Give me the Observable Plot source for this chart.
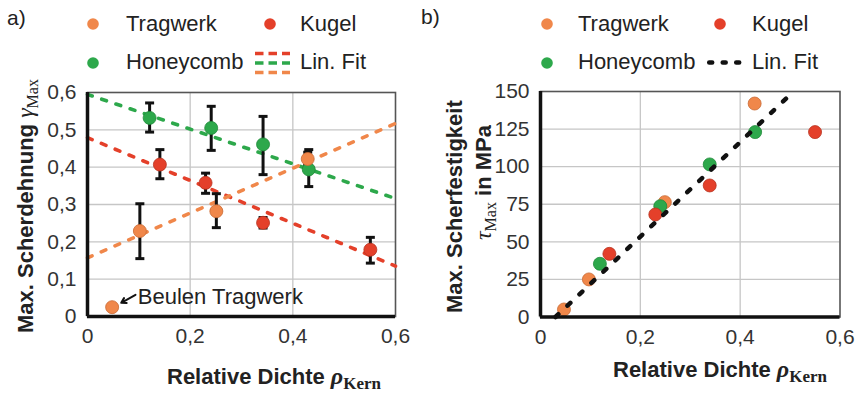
<!DOCTYPE html>
<html><head><meta charset="utf-8">
<script src="https://cdn.jsdelivr.net/npm/d3@7"></script>
<script src="https://cdn.jsdelivr.net/npm/@observablehq/plot@0.6"></script>
<style>
body{margin:0;background:#fff;}
#wrap{position:relative;width:864px;height:394px;overflow:hidden;font-family:"Liberation Sans",Arial,sans-serif;}
#wrap > svg, #wrap > div{position:absolute;top:0;}
</style></head>
<body><div id="wrap"></div>
<script>
// ---------- Panel a data: Max. Scherdehnung ----------
const tragX  = [0.048, 0.102, 0.251, 0.429];
const tragY  = [0.025, 0.229, 0.282, 0.422];
const tragLo = [null, 0.155, 0.238, 0.405];
const tragHi = [null, 0.302, 0.329, 0.440];
const kugX   = [0.141, 0.230, 0.342, 0.551];
const kugY   = [0.407, 0.358, 0.251, 0.179];
const kugLo  = [0.369, 0.330, 0.237, 0.143];
const kugHi  = [0.447, 0.384, 0.265, 0.212];
const honX   = [0.121, 0.241, 0.342, 0.431];
const honY   = [0.532, 0.505, 0.461, 0.394];
const honLo  = [0.494, 0.445, 0.380, 0.348];
const honHi  = [0.572, 0.563, 0.536, 0.447];
// linear fit end points (x range 0..0.6)
const fitAX = [0, 0.6];
const fitTragY = [0.157, 0.517];
const fitKugY  = [0.479, 0.135];
const fitHonY  = [0.595, 0.316];
const annotText = ["Beulen Tragwerk"];
const annotX = [0.098], annotY = [0.052];
const arrowFrom = [0.0935, 0.058], arrowTo = [0.0657, 0.0367];

// ---------- Panel b data: Max. Scherfestigkeit ----------
const bTragX = [0.047, 0.097, 0.249, 0.429];
const bTragY = [5.0, 25.0, 76.4, 142.0];
const bHonX  = [0.119, 0.240, 0.339, 0.430];
const bHonY  = [35.4, 73.7, 101.5, 123.0];
const bKugX  = [0.138, 0.230, 0.339, 0.550];
const bKugY  = [42.0, 68.2, 87.5, 123.0];
const fitBX  = [0.03, 0.507];
const fitBY  = [0, 150];

const xTicks = [0, 0.2, 0.4, 0.6];
const yTicksA = [0, 0.1, 0.2, 0.3, 0.4, 0.5, 0.6];
const yTicksB = [0, 25, 50, 75, 100, 125, 150];

const C = {trag:"#f0874a", kug:"#e4402a", hon:"#2da84b"};
const fmt = d => d === 0 ? "0" : String(+d.toFixed(2)).replace(".", ",");

const zip = (xs, ys) => xs.map((x,i)=>({x, y:ys[i]}));
const errs = (xs, ys, lo, hi) => xs.map((x,i)=>({x, y:ys[i], lo:lo[i], hi:hi[i]})).filter(d=>d.lo!=null);
const capSymbol = {draw(ctx, size){ const w = Math.sqrt(size/Math.PI); ctx.moveTo(-w,0); ctx.lineTo(w,0);} };

const wrap = document.getElementById("wrap");
const axisStyle = {fontSize:21, fill:"#333", tickSize:0};

function base(ticksY){
  return [
    Plot.gridX({ticks:[0.2,0.4], stroke:"#c6c6c6", strokeOpacity:1, strokeWidth:1.3}),
    Plot.gridY({ticks:ticksY.slice(1,-1), stroke:"#c6c6c6", strokeOpacity:1, strokeWidth:1.3}),
    Plot.frame({stroke:"#555", strokeWidth:1.6}),
    Plot.axisX({ticks:xTicks, tickFormat:fmt, tickPadding:12, label:null, ...axisStyle}),
    Plot.axisY({ticks:ticksY, tickFormat:fmt, tickPadding:11, label:null, ...axisStyle}),
  ];
}

const eA = [...errs(honX,honY,honLo,honHi), ...errs(kugX,kugY,kugLo,kugHi), ...errs(tragX,tragY,tragLo,tragHi)];
const plotA = Plot.plot({
  width:430, height:394, marginLeft:87, marginRight:35, marginTop:92, marginBottom:78,
  style:{fontFamily:"Liberation Sans, Arial, sans-serif", background:"transparent", overflow:"visible"},
  x:{domain:[0,0.6]}, y:{domain:[0,0.6]},
  marks:[
    ...base(yTicksA),
    Plot.line(zip(fitAX, fitHonY), {x:"x", y:"y", stroke:C.hon, strokeWidth:3.6, strokeDasharray:"5,10", strokeLinecap:"round"}),
    Plot.line(zip(fitAX, fitKugY), {x:"x", y:"y", stroke:C.kug, strokeWidth:3.6, strokeDasharray:"5,10", strokeLinecap:"round"}),
    Plot.line(zip(fitAX, fitTragY), {x:"x", y:"y", stroke:C.trag, strokeWidth:3.6, strokeDasharray:"5,10", strokeLinecap:"round"}),
    Plot.ruleX(eA, {x:"x", y1:"lo", y2:"hi", stroke:"#111", strokeWidth:3}),
    Plot.dot(eA, {x:"x", y:"lo", symbol:capSymbol, r:4.5, stroke:"#111", strokeWidth:3, fill:"none"}),
    Plot.dot(eA, {x:"x", y:"hi", symbol:capSymbol, r:4.5, stroke:"#111", strokeWidth:3, fill:"none"}),
    Plot.dot(zip(honX,honY), {x:"x", y:"y", r:6.5, fill:C.hon, stroke:"#1f8a3a", strokeWidth:0.8}),
    Plot.dot(zip(kugX,kugY), {x:"x", y:"y", r:6.5, fill:C.kug, stroke:"#b8321f", strokeWidth:0.8}),
    Plot.dot(zip(tragX,tragY), {x:"x", y:"y", r:6.5, fill:C.trag, stroke:"#c96a33", strokeWidth:0.8}),
    Plot.arrow([{x1:arrowFrom[0], y1:arrowFrom[1], x2:arrowTo[0], y2:arrowTo[1]}], {x1:"x1", y1:"y1", x2:"x2", y2:"y2", stroke:"#111", strokeWidth:2, headLength:8}),
    Plot.text(annotText, {x:()=>annotX[0], y:()=>annotY[0], text:d=>d, textAnchor:"start", fontSize:22, fill:"#222"}),
    Plot.ruleX([0], {stroke:"#111", strokeWidth:3.5}),
    Plot.ruleY([0], {stroke:"#111", strokeWidth:3.5}),
  ]
});
plotA.style.left = "0px";
wrap.appendChild(plotA);

const plotB = Plot.plot({
  width:434, height:394, marginLeft:110, marginRight:24.5, marginTop:91, marginBottom:77.5,
  style:{fontFamily:"Liberation Sans, Arial, sans-serif", background:"transparent", overflow:"visible"},
  x:{domain:[0,0.6]}, y:{domain:[0,150]},
  marks:[
    ...base(yTicksB),
    Plot.dot(zip(bTragX,bTragY), {x:"x", y:"y", r:6.5, fill:C.trag, stroke:"#c96a33", strokeWidth:0.8}),
    Plot.dot(zip(bHonX,bHonY), {x:"x", y:"y", r:6.5, fill:C.hon, stroke:"#1f8a3a", strokeWidth:0.8}),
    Plot.dot(zip(bKugX,bKugY), {x:"x", y:"y", r:6.5, fill:C.kug, stroke:"#b8321f", strokeWidth:0.8}),
    Plot.line(zip(fitBX, fitBY), {x:"x", y:"y", stroke:"#111", strokeWidth:4.5, strokeDasharray:"4,12.5", strokeLinecap:"round"}),
    Plot.ruleX([0], {stroke:"#111", strokeWidth:3.5}),
    Plot.ruleY([0], {stroke:"#111", strokeWidth:3.5}),
  ]
});
plotB.style.left = "430px";
wrap.appendChild(plotB);

// ---------- overlay: panel letters, legends, axis titles ----------
const NS = "http://www.w3.org/2000/svg";
const ov = d3.select(wrap).append("svg").attr("width",864).attr("height",394)
  .style("position","absolute").style("left","0px").style("top","0px")
  .attr("font-family","Liberation Sans, Arial, sans-serif").attr("fill","#222");

ov.append("text").attr("x",7).attr("y",25).attr("font-size",21).text("a)");
ov.append("text").attr("x",421).attr("y",24).attr("font-size",21).text("b)");

function legendDot(x,y,c){ ov.append("circle").attr("cx",x).attr("cy",y).attr("r",5.8).attr("fill",c); }
function legendText(x,y,t){ ov.append("text").attr("x",x).attr("y",y).attr("font-size",22).text(t); }
function legendDash(x1,x2,y,c,w){ ov.append("line").attr("x1",x1).attr("x2",x2).attr("y1",y).attr("y2",y)
  .attr("stroke",c).attr("stroke-width",w).attr("stroke-dasharray","8.5,5"); }

// legend a
legendDot(93,24,C.trag); legendText(126,31,"Tragwerk");
legendDot(270,24,C.kug); legendText(300,31,"Kugel");
legendDot(93,63,C.hon); legendText(126,69,"Honeycomb");
legendDash(255,290,53.5,C.kug,3.5); legendDash(255,290,63,C.hon,3.5); legendDash(255,290,72.5,C.trag,3.5);
legendText(300,69,"Lin. Fit");
// legend b
legendDot(547,24,C.trag); legendText(578,31,"Tragwerk");
legendDot(720,24,C.kug); legendText(752,31,"Kugel");
legendDot(547,63,C.hon); legendText(578,69,"Honeycomb");
ov.append("line").attr("x1",707).attr("x2",744).attr("y1",62.5).attr("y2",62.5)
  .attr("stroke","#111").attr("stroke-width",4.5).attr("stroke-dasharray","3,10.5").attr("stroke-linecap","round")
  .attr("transform","translate(2.2,0)");
legendText(752,69,"Lin. Fit");

// x titles
function xTitle(x,y){
  const t = ov.append("text").attr("x",x).attr("y",y).attr("font-size",22).attr("font-weight","bold");
  t.append("tspan").text("Relative Dichte ");
  t.append("tspan").attr("font-family","Liberation Serif, Times New Roman, serif").attr("font-style","italic").attr("font-size",24).text("ρ");
  t.append("tspan").attr("font-family","Liberation Serif, Times New Roman, serif").attr("font-size",17).attr("dy",5).text("Kern");
}
xTitle(167,384);
xTitle(613,377);

// y title a
{
  const t = ov.append("text").attr("transform","translate(33,333) rotate(-90)").attr("font-size",22).attr("font-weight","bold");
  t.append("tspan").text("Max. Scherdehnung ");
  t.append("tspan").attr("font-family","Liberation Serif, Times New Roman, serif").attr("font-style","italic").attr("font-weight","normal").attr("font-size",24).text("γ");
  t.append("tspan").attr("font-family","Liberation Serif, Times New Roman, serif").attr("font-weight","normal").attr("font-size",16).attr("dy",5).text("Max");
}
// y title b
{
  const t1 = ov.append("text").attr("transform","translate(462,313) rotate(-90)").attr("font-size",22).attr("font-weight","bold").text("Max. Scherfestigkeit");
  const t = ov.append("text").attr("transform","translate(491,240) rotate(-90)").attr("font-size",22).attr("font-weight","bold");
  t.append("tspan").attr("font-family","Liberation Serif, Times New Roman, serif").attr("font-style","italic").attr("font-weight","normal").attr("font-size",24).text("τ");
  t.append("tspan").attr("font-family","Liberation Serif, Times New Roman, serif").attr("font-weight","normal").attr("font-size",16).attr("dy",5).text("Max");
  t.append("tspan").attr("dy",-5).text(" in MPa");
}
</script></body></html>
